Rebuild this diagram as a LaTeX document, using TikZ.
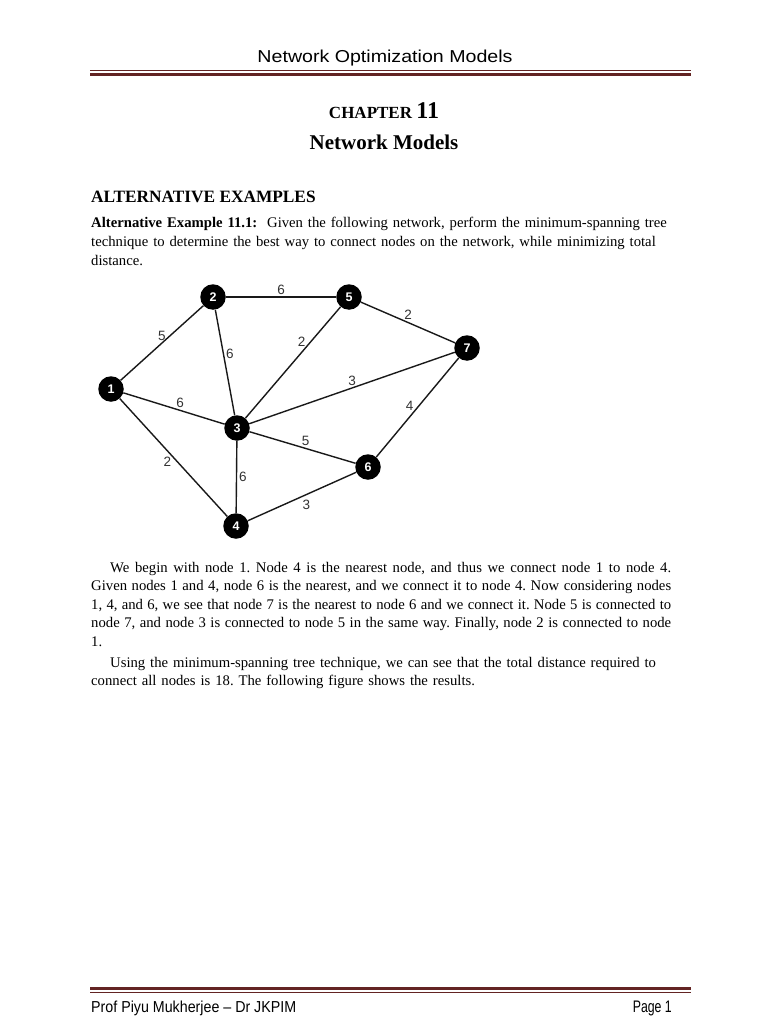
\documentclass[tikz,border=0pt]{standalone}
\usepackage{fontspec}
\usepackage{graphicx}
\setmainfont{Liberation Serif}
\newfontfamily\sansfnt{Liberation Sans}
\definecolor{rulered}{RGB}{99,36,35}
\frenchspacing
\tikzset{
  vtx/.style={circle, fill=black, text=white, inner sep=0pt, minimum size=25.5pt, font=\sansfnt\bfseries\fontsize{12.5}{12.5}\selectfont},
  link/.style={line width=1.4pt, draw=black!90},
  wt/.style={font=\sansfnt\fontsize{13.5}{13.5}\selectfont, text=black!80, inner sep=2pt},
  para/.style={anchor=base west, inner sep=0pt, align=left, text width=640pt, font=\fontsize{14.7}{18.5}\selectfont},
  jpara/.style={para, align=justify, text width=580pt},
  hrule/.style={draw=rulered}
}

\begin{document}
\begin{tikzpicture}[x=1pt, y=-1pt]
    \useasboundingbox[fill=white] (0,0) rectangle (768,1024);

    % running head
    \node[anchor=base, inner sep=0pt] (hdr) at (385,63) {\sansfnt\resizebox{255pt}{12.5pt}{Network Optimization Models}};
    \draw[hrule, line width=1pt] (90,71) -- (691,71);
    \draw[hrule, line width=3pt] (90,74.5) -- (691,74.5);

    \node[anchor=base, inner sep=0pt] (chap) at (384,119) {\bfseries\fontsize{17}{17}\selectfont CHAPTER \fontsize{24}{24}\selectfont 11};
    \node[anchor=base, inner sep=0pt] (title) at (384,150) {\bfseries\fontsize{21}{21}\selectfont Network Models};
    \node[anchor=base west, inner sep=0pt] (sect) at (91,203) {\bfseries\fontsize{17.3}{17.3}\selectfont ALTERNATIVE EXAMPLES};
    \node[para] (intro) at (91,228) {\textbf{Alternative Example 11.1:}\ \ Given the following network, perform the minimum-spanning tree\\
      technique to determine the best way to connect nodes on the network, while minimizing total\\
      distance.};

    % network
    \node[vtx] (n1) at (111,389) {1};
    \node[vtx] (n2) at (213,297) {2};
    \node[vtx] (n3) at (237,428) {3};
    \node[vtx] (n4) at (236,526) {4};
    \node[vtx] (n5) at (349,297) {5};
    \node[vtx] (n6) at (368,467) {6};
    \node[vtx] (n7) at (467,348) {7};

    \draw[link] (n2) -- node[wt, above]{6} (n5);
    \draw[link] (n5) -- node[wt, above]{2} (n7);
    \draw[link] (n1) -- node[wt, above]{5} (n2);
    \draw[link] (n2) -- node[wt, pos=0.42, right]{6} (n3);
    \draw[link] (n5) -- node[wt, pos=0.31, left=3pt]{2} (n3);
    \draw[link] (n3) -- node[wt, above]{3} (n7);
    \draw[link] (n1) -- node[wt, pos=0.56, above]{6} (n3);
    \draw[link] (n7) -- node[wt, pos=0.48, left=3pt]{4} (n6);
    \draw[link] (n3) -- node[wt, pos=0.53, above]{5} (n6);
    \draw[link] (n1) -- node[wt, pos=0.54, left=4pt]{2} (n4);
    \draw[link] (n3) -- node[wt, right]{6} (n4);
    \draw[link] (n4) -- node[wt, pos=0.54, below=3pt]{3} (n6);

    \node[jpara] (p1) at (91,572) {\hspace*{19pt}We begin with node 1. Node 4 is the nearest node, and thus we connect node 1 to node 4.\linebreak
      Given nodes 1 and 4, node 6 is the nearest, and we connect it to node 4. Now considering nodes\linebreak
      1, 4, and 6, we see that node 7 is the nearest to node 6 and we connect it. Node 5 is connected to\linebreak
      node 7, and node 3 is connected to node 5 in the same way. Finally, node 2 is connected to node\linebreak
      1.};
    \node[para] (p2) at (91,667) {\hspace*{19pt}Using the minimum-spanning tree technique, we can see that the total distance required to\\
      connect all nodes is 18. The following figure shows the results.};

    % running foot
    \draw[hrule, line width=3pt] (90,988.5) -- (691,988.5);
    \draw[hrule, line width=1pt] (90,992.5) -- (691,992.5);
    \node[anchor=base west, inner sep=0pt] (ftl) at (91,1012) {\sansfnt\resizebox{205pt}{11.5pt}{Prof Piyu Mukherjee – Dr JKPIM}};
    \node[anchor=base east, inner sep=0pt] (ftr) at (672,1012) {\sansfnt\resizebox{39pt}{11.5pt}{Page 1}};
\end{tikzpicture}
\end{document}
